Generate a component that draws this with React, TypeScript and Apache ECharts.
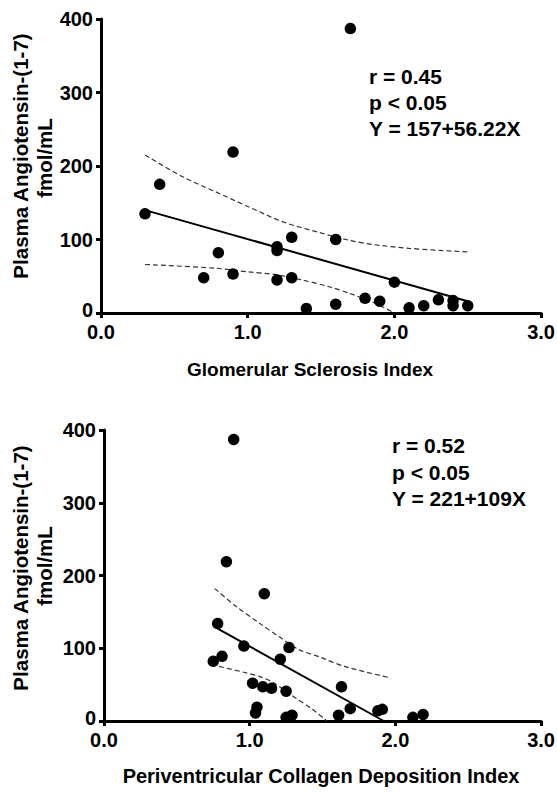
import React, { useEffect, useRef } from "react";
import * as echarts from "echarts";

// ---- Panel A: Glomerular Sclerosis Index ----
const glomIndex = [0.3, 0.4, 0.7, 0.8, 0.9, 0.9, 1.2, 1.2, 1.2, 1.3, 1.3, 1.4, 1.6, 1.6, 1.7, 1.8, 1.9, 2.0, 2.1, 2.2, 2.3, 2.4, 2.4, 2.5];
const glomAng = [135, 175, 48, 82, 53, 219, 90, 85, 45, 103, 48, 6, 100, 12, 387, 20, 16, 42, 7, 10, 18, 17, 10, 10];
const glomFitX = [0.3, 2.5];
const glomFitY = [140, 16];
const glomUpperX = [0.3, 0.56, 0.78, 1.0, 1.24, 1.46, 1.69, 1.86, 2.1, 2.5];
const glomUpperY = [215, 185, 165, 145, 124, 111, 99, 93, 88, 83];
const glomLowerX = [0.3, 0.78, 1.0, 1.2, 1.37, 1.55, 1.69, 1.86, 2.0];
const glomLowerY = [66, 61, 56, 52, 45, 36, 27, 14, 0];
const glomStats = ["r = 0.45", "p < 0.05", "Y = 157+56.22X"];

// ---- Panel B: Periventricular Collagen Deposition Index ----
const periIndex = [0.84, 1.1, 0.78, 0.75, 0.81, 0.96, 1.27, 1.21, 1.02, 1.09, 1.15, 1.25, 1.05, 1.04, 1.25, 1.29, 0.89, 1.63, 1.69, 1.61, 1.88, 1.91, 2.12, 2.19];
const periAng = [219, 175, 134, 82, 89, 103, 101, 85, 52, 47, 45, 41, 19, 11, 5, 8, 387, 47, 17, 8, 14, 16, 5, 9];
const periFitX = [0.78, 1.92];
const periFitY = [127, 0];
const periUpperX = [0.76, 0.91, 1.07, 1.2, 1.34, 1.48, 1.65, 1.95];
const periUpperY = [182, 157, 134, 116, 98, 88, 75, 60];
const periLowerX = [0.79, 0.96, 1.07, 1.16, 1.29, 1.43, 1.53];
const periLowerY = [75, 67, 61, 53, 35, 16, 0];
const periStats = ["r = 0.52", "p < 0.05", "Y = 221+109X"];

const xTicks = [0, 1, 2, 3];
const yTicks = [0, 100, 200, 300, 400];
const yTitle1 = "Plasma Angiotensin-(1-7)";
const yTitle2 = "fmol/mL";
const xTitleA = "Glomerular Sclerosis Index";
const xTitleB = "Periventricular Collagen Deposition Index";

const FONT = '"Liberation Sans", Arial, Helvetica, sans-serif';
const pairs = (xs: number[], ys: number[]) => xs.map((x, i) => [x, ys[i]]);

export default function App() {
  const ref = useRef<HTMLDivElement>(null);
  useEffect(() => {
    if (!ref.current) return;
    const chart = echarts.init(ref.current, null, { renderer: "svg" });

    const axisBase = {
      type: "value" as const,
      axisLine: { show: true, onZero: false, lineStyle: { color: "#000", width: 3 } },
      axisTick: { show: true, length: 5, lineStyle: { color: "#000", width: 3 } },
      splitLine: { show: false },
    };
    const mkX = (gi: number) => ({
      ...axisBase,
      gridIndex: gi,
      min: xTicks[0],
      max: xTicks[xTicks.length - 1],
      interval: 1,
      axisLabel: {
        margin: 9,
        fontSize: 20,
        fontWeight: "bold",
        fontFamily: FONT,
        color: "#000",
        formatter: (v: number) => v.toFixed(1),
      },
    });
    const mkY = (gi: number) => ({
      ...axisBase,
      gridIndex: gi,
      min: yTicks[0],
      max: yTicks[yTicks.length - 1],
      interval: 100,
      axisLabel: {
        margin: 8,
        fontSize: 20,
        fontWeight: "bold",
        fontFamily: FONT,
        color: "#000",
        formatter: (v: number) => (v === 0 ? "{z|0}" : String(v)),
        rich: {
          z: { fontSize: 20, fontWeight: "bold", fontFamily: FONT, color: "#000", padding: [0, 0, 7, 0] },
        },
      },
    });

    const mkSeries = (gi: number, xs: number[], ys: number[], fx: number[], fy: number[], ux: number[], uy: number[], lx: number[], ly: number[]) => [
      {
        type: "line",
        xAxisIndex: gi,
        yAxisIndex: gi,
        data: pairs(ux, uy),
        symbol: "none",
        smooth: 0.3,
        lineStyle: { color: "#333", width: 1.2, type: [5, 3] },
      },
      {
        type: "line",
        xAxisIndex: gi,
        yAxisIndex: gi,
        data: pairs(lx, ly),
        symbol: "none",
        smooth: 0.3,
        lineStyle: { color: "#333", width: 1.2, type: [5, 3] },
      },
      {
        type: "line",
        xAxisIndex: gi,
        yAxisIndex: gi,
        data: pairs(fx, fy),
        symbol: "none",
        lineStyle: { color: "#000", width: 2 },
      },
      {
        type: "scatter",
        xAxisIndex: gi,
        yAxisIndex: gi,
        data: pairs(xs, ys),
        symbol: "circle",
        symbolSize: 11.5,
        itemStyle: { color: "#000", opacity: 1 },
        z: 5,
      },
    ];

    const txt = (text: string, x: number, y: number, size: number, align = "left", rotation = 0) => ({
      type: "text",
      x,
      y,
      rotation,
      style: {
        text,
        font: `bold ${size}px ${FONT}`,
        fill: "#000",
        align,
        textAlign: align,
        verticalAlign: "middle",
        textVerticalAlign: "middle",
      },
    });

    chart.setOption({
      animation: false,
      backgroundColor: "#fff",
      grid: [
        { left: 101, top: 19, width: 442, height: 294 },
        { left: 104, top: 430, width: 439, height: 291 },
      ],
      xAxis: [mkX(0), mkX(1)],
      yAxis: [mkY(0), mkY(1)],
      series: [
        ...mkSeries(0, glomIndex, glomAng, glomFitX, glomFitY, glomUpperX, glomUpperY, glomLowerX, glomLowerY),
        ...mkSeries(1, periIndex, periAng, periFitX, periFitY, periUpperX, periUpperY, periLowerX, periLowerY),
      ],
      graphic: [
        txt(glomStats[0], 369, 76, 21),
        txt(glomStats[1], 369, 102, 21),
        txt(glomStats[2], 369, 128, 21),
        txt(periStats[0], 392, 445, 21),
        txt(periStats[1], 392, 472, 21),
        txt(periStats[2], 392, 498, 21),
        txt(yTitle1, 20, 156, 20.5, "center", Math.PI / 2),
        txt(yTitle2, 44, 158, 20.5, "center", Math.PI / 2),
        txt(yTitle1, 20, 568, 20.5, "center", Math.PI / 2),
        txt(yTitle2, 44, 566, 20.5, "center", Math.PI / 2),
        txt(xTitleA, 310, 369, 19, "center"),
        txt(xTitleB, 321, 776, 20, "center"),
      ],
    });
    return () => chart.dispose();
  }, []);

  return <div ref={ref} style={{ position: "absolute", left: 0, top: 0, width: 558, height: 792 }} />;
}
